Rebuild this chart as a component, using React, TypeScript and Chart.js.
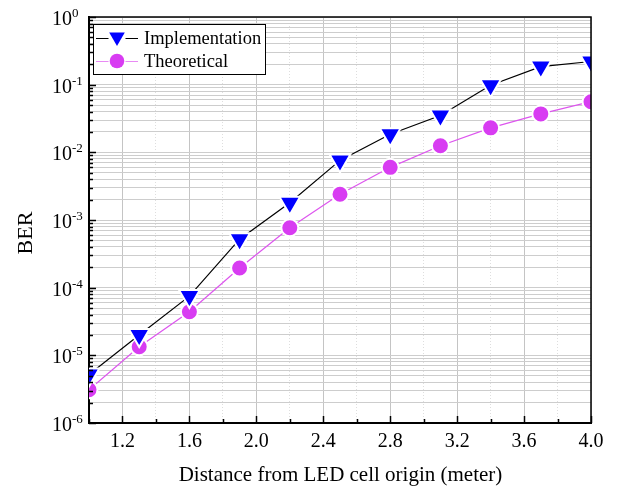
import React, { useEffect, useRef } from "react";
import { Chart, registerables } from "chart.js";

Chart.register(...registerables);

const distance = [1.0, 1.3, 1.6, 1.9, 2.2, 2.5, 2.8, 3.1, 3.4, 3.7, 4.0];
const implementation = [5.2e-6, 2.0e-5, 7.5e-5, 5.2e-4, 1.8e-3, 7.6e-3, 1.85e-2, 3.5e-2, 9.8e-2, 1.85e-1, 2.2e-1];
const theoretical = [3.1e-6, 1.34e-5, 4.4e-5, 1.95e-4, 7.7e-4, 2.4e-3, 6.0e-3, 1.25e-2, 2.3e-2, 3.7e-2, 5.6e-2];
const xTickValues = [1.0, 1.2, 1.4, 1.6, 1.8, 2.0, 2.2, 2.4, 2.6, 2.8, 3.0, 3.2, 3.4, 3.6, 3.8, 4.0];
const xTickLabels = ["", "1.2", "", "1.6", "", "2.0", "", "2.4", "", "2.8", "", "3.2", "", "3.6", "", "4.0"];
const yDecades = [-6, -5, -4, -3, -2, -1, 0];
const seriesNames = ["Implementation", "Theoretical"];
const xTitle = "Distance from LED cell origin (meter)";
const yTitle = "BER";

const SERIF = '"Liberation Serif", "Times New Roman", serif';
const BLUE = "#0000ff";
const MAGENTA = "#d83cf2";
const MAGENTA_LINE = "#dd55ee";

const isMajorX = (v: number) => {
  const i = xTickValues.findIndex((t) => Math.abs(t - v) < 1e-6);
  return i >= 0 && xTickLabels[i] !== "";
};

function drawTriangle(ctx: CanvasRenderingContext2D, x: number, y: number, r: number) {
  ctx.beginPath();
  ctx.moveTo(x, y + r);
  ctx.lineTo(x - r * Math.sin(Math.PI / 3), y - r / 2);
  ctx.lineTo(x + r * Math.sin(Math.PI / 3), y - r / 2);
  ctx.closePath();
}

const decorPlugin = {
  id: "decor",
  afterDraw(chart: any) {
    const ctx: CanvasRenderingContext2D = chart.ctx;
    const area = chart.chartArea;
    const xs = chart.scales.x;
    const ys = chart.scales.y;
    ctx.save();
    // top & right frame
    ctx.strokeStyle = "#000";
    ctx.lineWidth = 1.5;
    ctx.beginPath();
    ctx.moveTo(area.left, area.top);
    ctx.lineTo(area.right, area.top);
    ctx.lineTo(area.right, area.bottom);
    ctx.stroke();

    // inward ticks on bottom axis
    ctx.lineWidth = 1.5;
    xTickValues.forEach((v) => {
      const px = Math.round(xs.getPixelForValue(v)) + 0.5;
      const len = isMajorX(v) ? 7 : 4;
      ctx.beginPath();
      ctx.moveTo(px, area.bottom);
      ctx.lineTo(px, area.bottom - len);
      ctx.stroke();
    });
    // inward ticks on left axis
    yDecades.forEach((e) => {
      for (let m = 1; m <= 9; m++) {
        const val = m * Math.pow(10, e);
        if (val > 1.0000001) break;
        const py = Math.round(ys.getPixelForValue(val)) + 0.5;
        const len = m === 1 ? 7 : 4;
        ctx.beginPath();
        ctx.moveTo(area.left, py);
        ctx.lineTo(area.left + len, py);
        ctx.stroke();
      }
    });

    // x tick labels
    ctx.fillStyle = "#000";
    ctx.font = `20px ${SERIF}`;
    ctx.textAlign = "center";
    ctx.textBaseline = "alphabetic";
    xTickValues.forEach((v, i) => {
      if (!xTickLabels[i]) return;
      ctx.fillText(xTickLabels[i], xs.getPixelForValue(v), area.bottom + 24);
    });

    // y tick labels 10^e
    yDecades.forEach((e) => {
      const py = ys.getPixelForValue(Math.pow(10, e));
      ctx.font = `20px ${SERIF}`;
      ctx.textAlign = "right";
      ctx.fillText("10", 72, py + 8);
      ctx.font = `13px ${SERIF}`;
      ctx.textAlign = "left";
      ctx.fillText(String(e), 72, py);
    });

    // axis titles
    ctx.font = `21px ${SERIF}`;
    ctx.textAlign = "center";
    ctx.fillText(xTitle, (area.left + area.right) / 2 + 0.5, 481);
    ctx.save();
    ctx.translate(32, 233);
    ctx.rotate(-Math.PI / 2);
    ctx.font = `22px ${SERIF}`;
    ctx.fillText(yTitle, 0, 0);
    ctx.restore();

    // legend
    const bx = 93, by = 24, bw = 172, bh = 50;
    ctx.fillStyle = "#fff";
    ctx.fillRect(bx, by, bw, bh);
    ctx.strokeStyle = "#000";
    ctx.lineWidth = 1;
    ctx.strokeRect(bx + 0.5, by + 0.5, bw, bh);
    const rows = [38, 61];
    const lineColors = ["#000", "#e88af4"];
    rows.forEach((ry, i) => {
      ctx.strokeStyle = lineColors[i];
      ctx.lineWidth = 1.2;
      ctx.beginPath();
      ctx.moveTo(96, ry + 0.5);
      ctx.lineTo(108.5, ry + 0.5);
      ctx.moveTo(125.5, ry + 0.5);
      ctx.lineTo(138, ry + 0.5);
      ctx.stroke();
      if (i === 0) {
        ctx.fillStyle = BLUE;
        drawTriangle(ctx, 117, ry - 1, 9);
        ctx.fill();
      } else {
        ctx.fillStyle = MAGENTA;
        ctx.beginPath();
        ctx.arc(117, ry, 7.3, 0, Math.PI * 2);
        ctx.fill();
      }
      ctx.fillStyle = "#000";
      ctx.font = `18.5px ${SERIF}`;
      ctx.textAlign = "left";
      ctx.textBaseline = "middle";
      ctx.fillText(seriesNames[i], 144, ry + 1);
      ctx.textBaseline = "alphabetic";
    });
    ctx.restore();
  },
};

export default function App() {
  const ref = useRef<HTMLCanvasElement | null>(null);
  useEffect(() => {
    document.body.style.margin = "0";
    if (!ref.current) return;
    const chart = new Chart(ref.current, {
      type: "line",
      data: {
        datasets: [
          {
            label: seriesNames[0],
            data: distance.map((x, i) => ({ x, y: implementation[i] })),
            borderColor: "#000",
            borderWidth: 1.2,
            pointStyle: "triangle",
            rotation: 180,
            pointRadius: 12,
            pointHoverRadius: 12,
            pointBackgroundColor: BLUE,
            pointBorderColor: "#fff",
            pointBorderWidth: 2,
            clip: 0,
          },
          {
            label: seriesNames[1],
            data: distance.map((x, i) => ({ x, y: theoretical[i] })),
            borderColor: MAGENTA_LINE,
            borderWidth: 1.2,
            pointStyle: "circle",
            pointRadius: 8.5,
            pointHoverRadius: 8.5,
            pointBackgroundColor: MAGENTA,
            pointBorderColor: "#fff",
            pointBorderWidth: 2,
            clip: 0,
          },
        ],
      },
      options: {
        responsive: false,
        animation: false,
        layout: { padding: { top: 17, right: 37, left: 0, bottom: 0 } },
        plugins: { legend: { display: false }, tooltip: { enabled: false } },
        scales: {
          x: {
            type: "linear",
            min: 1.0,
            max: 4.0,
            afterBuildTicks: (scale: any) => {
              scale.ticks = xTickValues.map((v) => ({ value: v }));
            },
            afterFit: (scale: any) => {
              scale.height = 63;
            },
            ticks: { display: false, autoSkip: false },
            grid: {
              drawTicks: false,
              color: (c: any) => (c.tick && !isMajorX(c.tick.value) ? "#dedede" : "#c4c4c4"),
              lineWidth: 1,
            },
            border: {
              display: true,
              color: "#000",
              width: 2,
              dash: (c: any) => (c.tick && !isMajorX(c.tick.value) ? [1, 2] : []),
            },
          },
          y: {
            type: "logarithmic",
            min: 1e-6,
            max: 1,
            afterBuildTicks: (scale: any) => {
              const t: any[] = [];
              yDecades.forEach((e) => {
                for (let m = 1; m <= 9; m++) {
                  const val = m * Math.pow(10, e);
                  if (val > 1.0000001) break;
                  t.push({ value: val });
                }
              });
              scale.ticks = t;
            },
            afterFit: (scale: any) => {
              scale.width = 89;
            },
            ticks: { display: false, autoSkip: false },
            grid: { drawTicks: false, color: "#cdcdcd", lineWidth: 1 },
            border: { display: true, color: "#000", width: 2 },
          },
        },
      },
      plugins: [decorPlugin],
    } as any);
    return () => chart.destroy();
  }, []);
  return (
    <div style={{ position: "absolute", left: 0, top: 0, width: 628, height: 486, background: "#fff" }}>
      <canvas ref={ref} width={628} height={486} style={{ width: 628, height: 486 }} />
    </div>
  );
}
